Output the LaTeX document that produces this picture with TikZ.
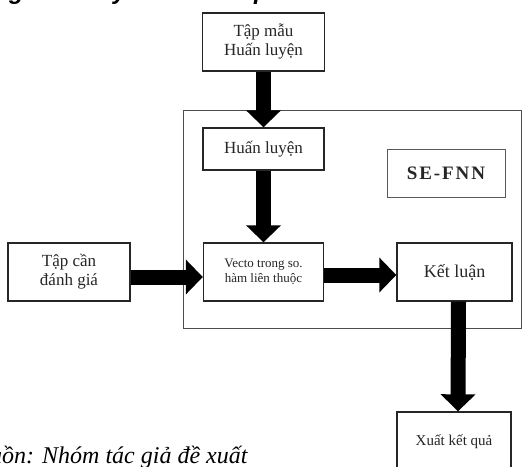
\documentclass[tikz,border=0pt]{standalone}
\usepackage{fontspec}
\setmainfont{Liberation Serif}
\newfontfamily\headfont{Liberation Sans}
\newfontfamily\sefont[LetterSpace=10]{Liberation Serif}
\usetikzlibrary{arrows.meta}
\begin{document}
\begin{tikzpicture}[x=1pt,y=-1pt,
  box/.style={draw=black!85, line width=1.4pt, align=center, inner sep=0pt, text=black!85,
    font=\fontsize{17}{19}\selectfont},
  fat/.style={line width=15pt, draw=black, -{Triangle[width=34pt,length=17pt]}},
  frag/.style={inner sep=0pt, anchor=base west, font=\headfont\bfseries\itshape\fontsize{24}{26}\selectfont}
]
\useasboundingbox (0,0) rectangle (522,466);
\fill[white] (0,0) rectangle (522,466);
% cropped heading fragments
\node[frag] (fg) at (9,-1) {g};
\node[frag] (fy) at (113,-1) {y};
\node[frag] (fp) at (254,-1) {p};
% system frame
\node[draw=black!70, line width=0.9pt, minimum width=338pt, minimum height=218pt, inner sep=0pt] (sys) at (352,219) {};
% boxes
\node[box, minimum width=122pt, minimum height=58pt] (top) at (263.5,42) {Tập mẫu\\Huấn luyện};
\node[box, minimum width=121pt, minimum height=42pt] (hl) at (263.5,149) {Huấn luyện};
\node[draw=black!65, line width=0.8pt, minimum width=118pt, minimum height=48pt, inner sep=0pt,
  font=\sefont\bfseries\fontsize{19}{21}\selectfont, text=black!85] (se) at (446,173) {SE-FNN};
\node[box, minimum width=120pt, minimum height=58pt, font=\fontsize{13}{15}\selectfont] (vec) at (263.5,272) {Vecto trong so.\\hàm liên thuộc};
\node[box, minimum width=122pt, minimum height=58pt] (tap) at (69,272) {Tập cần\\đánh giá};
\node[box, minimum width=115pt, minimum height=58pt, font=\fontsize{18}{20}\selectfont] (kl) at (454.5,272) {Kết luận};
\node[box, minimum width=114pt, minimum height=60pt, font=\fontsize{15}{17}\selectfont] (xq) at (454,442) {Xuất kết quả};
% arrows
\draw[fat] (top) -- (hl);
\draw[fat] (hl) -- (vec);
\draw[fat] ([yshift=-5pt]tap.east) -- ([yshift=-5pt]vec.west);
\draw[fat] ([yshift=-3pt]vec.east) -- ([yshift=-3pt]kl.west);
\draw[fat] ([xshift=4pt]kl.south) -- ([xshift=4pt]xq.north);
% source line
\node[inner sep=0pt, anchor=base west, font=\itshape\fontsize{24}{26}\selectfont] (src) at (-38,463) {Nguồn: Nhóm tác giả đề xuất};
\end{tikzpicture}
\end{document}
